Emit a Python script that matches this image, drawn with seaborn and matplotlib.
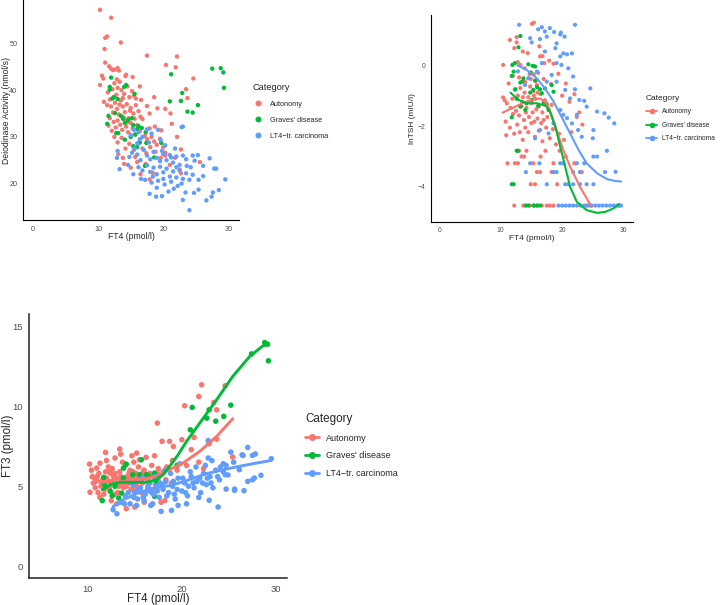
import matplotlib
matplotlib.use('Agg')
import matplotlib.pyplot as plt
import pandas as pd
import seaborn as sns
import numpy as np
from matplotlib.lines import Line2D

# categories + ggplot default hue colours
categories = ['Autonomy', "Graves' disease", 'LT4\u2212tr. carcinoma']
palette = ['#F8766D', '#00BA38', '#619CFF']

# ---- panel 1: deiodinase activity vs FT4 ----
deio_auto = [
    (10.3, 57.2), (12.0, 55.5), (11.1, 51.2), (11.4, 51.5), (11.0, 48.8), (13.5, 50.2), (11.1, 45.9),
    (11.7, 45.1), (12.0, 44.6), (12.3, 44.3), (12.6, 44.4), (13.0, 44.7), (13.2, 44.2), (14.3, 43.3),
    (15.3, 42.8), (10.6, 43.1), (10.8, 42.5), (10.3, 41.1), (17.5, 47.4), (20.4, 45.4), (22.1, 47.2),
    (21.9, 44.9), (24.6, 42.5), (16.4, 40.8), (15.8, 38.2), (18.6, 38.5), (23.5, 40.2), (23.7, 38.3),
    (19.1, 36.1), (20.3, 36.0), (17.9, 35.0), (21.1, 35.0), (21.3, 32.8), (18.7, 32.2), (19.7, 31.4),
    (22.1, 30.0), (22.7, 27.3), (20.3, 26.6), (20.3, 26.0), (25.6, 24.6), (22.7, 22.2), (18.4, 22.3),
    (17.9, 20.9), (15.0, 23.4), (15.7, 25.7), (16.0, 24.6), (14.0, 24.2),
    (11.5, 39.5), (11.8, 38.0), (12.2, 40.2), (12.5, 41.5), (12.8, 39.0), (13.0, 40.5), (13.3, 41.8),
    (13.6, 40.0), (14.0, 39.2), (14.5, 40.8), (14.8, 38.5), (15.2, 39.8), (12.0, 36.5), (12.3, 35.2),
    (12.6, 37.3), (12.9, 36.0), (13.2, 34.8), (13.5, 37.8), (13.8, 36.5), (14.1, 35.3), (14.4, 37.0),
    (14.7, 34.0), (15.0, 36.2), (15.4, 35.0), (15.8, 36.8), (16.2, 35.5), (16.5, 34.3), (11.8, 34.0),
    (12.4, 33.2), (12.7, 32.0), (13.0, 33.5), (13.4, 32.6), (13.7, 31.5), (14.0, 33.8), (14.3, 32.2),
    (14.6, 31.0), (15.0, 33.0), (15.3, 31.8), (15.7, 30.5), (16.0, 32.5), (16.4, 31.2), (16.8, 33.8),
    (17.2, 30.2), (17.5, 29.5), (17.9, 31.8), (18.2, 30.0), (18.6, 29.0), (19.0, 28.3), (19.5, 29.6),
    (20.0, 27.8), (12.5, 30.0), (13.0, 28.8), (13.6, 29.8), (14.2, 27.5), (14.8, 28.5), (15.5, 27.2),
    (16.2, 28.7), (16.8, 27.5), (17.4, 26.5), (18.0, 27.8), (18.8, 26.8), (19.6, 25.5), (21.0, 24.0),
    (21.8, 25.5), (22.5, 23.0), (11.4, 36.8), (10.9, 37.5), (12.9, 42.3), (14.2, 43.0), (13.8, 38.3),
    (15.5, 38.8), (16.6, 37.9), (17.5, 36.6), (12.1, 31.3), (11.6, 32.4), (13.1, 26.3), (13.8, 25.5),
    (17.3, 24.2), (16.5, 22.0), (13.9, 34.2), (14.9, 35.6), (13.3, 36.9), (14.5, 33.1), (15.6, 33.9),
]
deio_graves = [
    (12.0, 42.7), (11.8, 40.7), (11.8, 40.1), (12.4, 38.5), (13.0, 38.1), (14.3, 41.1), (14.0, 40.7),
    (15.6, 39.2), (11.6, 34.5), (12.6, 35.1), (13.5, 34.5), (11.4, 32.8), (13.1, 30.8), (12.8, 30.8),
    (13.8, 33.9), (14.1, 33.0), (15.4, 32.5), (16.0, 31.7), (16.2, 32.3), (16.7, 31.9), (15.7, 30.5),
    (16.4, 28.8), (17.4, 28.7), (17.3, 31.0), (19.7, 28.7), (18.6, 25.6), (17.2, 23.8), (15.4, 28.0),
    (14.1, 29.4), (15.2, 34.0), (21.2, 43.4), (22.9, 39.4), (21.0, 37.6), (22.7, 37.7), (23.7, 35.4),
    (24.5, 35.2), (25.3, 36.8), (27.5, 44.6), (28.8, 44.7), (29.2, 43.8), (29.3, 40.5), (14.6, 33.6),
    (15.0, 30.0), (16.0, 27.8), (12.2, 38.2),
]
deio_lt4 = [
    (13.0, 27.0), (12.9, 25.5), (13.3, 23.1), (14.8, 25.7), (15.2, 26.6), (15.6, 27.5), (16.0, 28.6),
    (16.4, 29.5), (15.5, 31.5), (16.2, 31.0), (15.0, 30.4), (16.8, 30.0), (17.5, 31.6), (18.2, 30.7),
    (19.2, 31.5), (16.0, 26.2), (16.5, 25.0), (17.0, 27.2), (17.5, 26.0), (18.0, 25.2), (18.5, 26.8),
    (19.0, 25.5), (19.5, 24.8), (20.0, 26.3), (20.5, 25.0), (21.0, 26.1), (21.5, 24.5), (22.0, 25.8),
    (22.5, 24.0), (23.0, 26.0), (23.5, 25.2), (16.2, 23.5), (16.8, 22.8), (17.5, 23.9), (18.0, 22.5),
    (18.5, 23.4), (19.0, 22.0), (19.5, 23.6), (20.0, 22.4), (20.5, 23.2), (21.0, 21.5), (21.5, 22.6),
    (22.0, 21.3), (22.5, 22.8), (23.0, 21.0), (23.5, 22.2), (24.0, 20.8), (24.5, 21.9), (17.2, 20.8),
    (18.2, 20.2), (19.2, 20.6), (20.2, 19.8), (21.2, 20.4), (22.2, 19.5), (20.8, 18.3), (19.0, 19.1),
    (17.9, 17.8), (18.9, 17.2), (19.8, 17.3), (23.0, 16.5), (24.0, 14.3), (26.6, 16.4), (27.4, 17.2),
    (27.6, 18.1), (28.5, 18.6), (29.5, 20.9), (25.3, 26.1), (27.1, 25.4), (27.8, 23.2), (28.1, 23.2),
    (26.1, 23.8), (25.4, 20.8), (25.4, 18.7), (24.7, 18.0), (23.4, 18.1), (26.1, 21.6), (23.0, 32.2),
    (22.8, 32.1), (24.2, 23.5), (24.8, 24.9), (21.8, 27.5), (20.3, 28.2), (19.6, 29.3), (17.8, 28.8),
    (14.6, 24.0), (15.4, 22.0), (16.6, 21.0), (21.6, 18.9), (22.8, 20.0), (20.0, 21.0), (18.4, 21.5),
    (23.6, 23.8), (24.5, 26.0), (22.0, 23.5), (21.2, 25.6), (19.8, 27.0),
]

# ---- panel 2: lnTSH vs FT4 ----
tsh_auto = [
    (15.1, 1.36), (15.4, 1.40), (11.5, 0.83), (12.6, 0.92), (12.6, 0.75), (12.2, 0.56), (13.6, 0.45),
    (14.4, 0.40), (16.3, 0.62), (16.8, 0.30), (10.4, 0.01), (12.8, 0.10), (13.2, 0.01), (13.9, -0.10),
    (14.7, -0.30), (15.7, -0.52), (16.4, 0.29), (17.1, 0.07), (17.9, 0.15), (18.6, 0.05), (19.4, -0.28),
    (18.2, -0.62), (17.0, -0.45), (12.0, -0.35), (11.3, -0.60), (10.4, -1.06), (10.65, -1.15),
    (11.0, -1.25), (11.6, -1.40), (10.8, -1.85), (11.5, -2.05), (10.9, -2.30), (12.2, -2.25),
    (12.7, -1.95), (13.1, -2.20), (13.6, -2.45), (14.0, -2.05), (14.5, -2.20), (15.0, -1.90),
    (15.6, -2.35), (16.2, -2.15), (16.8, -2.50), (17.4, -2.05), (18.0, -2.40), (18.5, -2.10),
    (19.0, -2.60), (19.5, -2.25), (20.3, -2.45), (21.5, -2.20), (22.4, -1.70), (22.8, -1.55),
    (23.3, -1.95), (22.0, -0.95), (21.2, -1.20), (20.6, -0.60), (20.0, -1.00),
    (12.3, -0.80), (12.8, -1.00), (13.2, -0.75), (13.5, -1.20), (13.9, -0.90), (14.2, -1.40),
    (14.5, -1.05), (14.8, -0.70), (15.0, -1.25), (15.3, -0.85), (15.6, -1.10), (15.9, -0.65),
    (16.2, -1.35), (16.5, -0.95), (16.8, -1.55), (17.2, -1.15), (17.6, -1.70), (12.5, -1.50),
    (13.0, -1.65), (13.4, -1.35), (13.8, -1.80), (14.1, -1.55), (14.6, -1.70), (15.2, -1.55),
    (15.5, -1.85), (15.8, -1.45), (16.0, -1.75), (16.6, -1.90), (17.0, -1.80), (17.8, -1.45),
    (18.3, -1.30), (11.9, -1.10), (12.0, -1.60), (14.0, -0.55), (14.9, -0.45), (15.4, -0.30),
    (16.1, -0.25), (13.0, -0.40), (14.7, -1.20), (15.4, -1.00), (16.0, -0.90), (13.6, -1.05),
    (11.1, -3.22), (12.3, -3.22), (12.8, -3.22), (13.4, -3.00), (13.8, -3.00), (14.2, -2.81),
    (15.3, -3.22), (17.3, -2.81), (18.6, -3.22), (16.5, -3.00), (19.6, -2.81), (20.6, -3.00),
    (13.0, -2.81), (15.9, -3.51), (16.4, -3.51), (18.3, -3.51), (23.2, -3.51), (22.0, -3.22),
    (14.9, -3.91), (15.6, -3.91), (19.2, -3.91),
    (12.2, -4.61), (13.7, -4.61), (14.8, -4.61), (15.4, -4.61), (16.0, -4.61), (16.7, -4.61),
    (17.5, -4.61), (18.0, -4.61), (18.6, -4.61), (24.0, -4.61), (24.6, -4.61),
]
tsh_graves = [
    (13.2, 0.96), (12.9, 0.59), (12.3, 0.07), (11.9, 0.01), (11.8, -0.35), (12.1, -0.21), (12.4, -0.79),
    (13.2, -0.57), (13.7, -0.43), (13.5, -0.54), (14.5, 0.03), (15.2, -0.02), (15.6, -0.04),
    (14.9, -0.24), (15.6, -0.50), (15.9, -0.72), (16.7, -0.92), (17.2, -0.76), (18.6, -0.87),
    (11.8, -1.71), (12.6, -2.81), (12.8, -2.81), (11.8, -3.91), (12.1, -3.91), (14.1, -4.61),
    (14.5, -4.61), (15.4, -4.61), (15.9, -4.61), (16.4, -4.61), (29.3, -4.61), (14.2, -1.25),
    (15.1, -1.14), (16.1, -1.34), (17.0, -1.23), (17.5, -1.27), (17.8, -1.47), (14.0, -1.47),
    (13.2, -1.36), (12.6, -1.10), (14.8, -0.90), (15.3, -0.81), (16.4, -0.79), (18.3, -0.65),
]
tsh_lt4 = [
    (13.0, 1.33), (14.8, 0.89), (15.05, 0.75), (16.1, 1.18), (16.4, 0.86), (16.7, 1.25), (17.2, 1.11),
    (18.0, 1.22), (18.7, 1.09), (19.7, 1.01), (19.8, 1.07), (20.4, 0.94), (22.1, 1.33), (17.5, 0.94),
    (19.1, 0.72), (18.9, 0.56), (20.2, 0.39), (20.8, 0.36), (21.6, 0.39), (19.7, 0.29), (19.1, 0.07),
    (19.9, 0.01), (21.0, -0.10), (21.8, -0.37), (17.2, 0.45), (16.7, 0.07), (15.9, -0.21),
    (14.5, -0.43), (13.96, -0.65), (18.3, -0.32), (17.5, -0.54), (19.1, -0.54), (20.5, -0.81),
    (21.3, -1.09), (22.1, -0.79), (22.8, -1.14), (23.6, -1.17), (24.0, -1.36), (24.6, -0.76),
    (25.7, -1.52), (26.9, -1.58), (27.6, -1.72), (28.5, -1.91), (25.1, -2.13), (25.0, -2.40),
    (19.7, -1.47), (20.2, -1.63), (20.8, -1.74), (21.6, -1.91), (18.6, -1.91), (17.8, -2.24),
    (22.4, -1.63), (22.6, -2.13), (23.2, -2.35), (27.3, -2.81), (28.7, -3.50), (16.4, -2.13),
    (15.6, -2.40), (12.8, -0.20), (16.3, -3.22),
    (14.8, -3.22), (14.1, -3.51), (18.6, -3.51), (19.1, -3.51), (21.8, -3.51), (22.9, -3.51),
    (27.0, -3.51), (19.7, -3.22), (20.2, -3.22), (22.4, -3.22), (23.6, -3.22), (25.1, -3.00),
    (25.7, -3.00), (17.5, -3.91), (20.5, -3.91), (21.0, -3.91), (21.8, -3.91), (22.9, -3.91),
    (24.0, -3.91), (25.1, -3.91),
    (19.4, -4.61), (20.0, -4.61), (20.6, -4.61), (21.2, -4.61), (21.8, -4.61), (22.4, -4.61),
    (23.0, -4.61), (23.6, -4.61), (24.2, -4.61), (24.8, -4.61), (25.4, -4.61), (26.0, -4.61),
    (26.6, -4.61), (27.2, -4.61), (27.8, -4.61), (28.4, -4.61), (29.0, -4.61), (29.6, -4.61),
]
# loess curves as drawn in panel 2
tsh_fit_auto = [(10.3, -1.56), (12.6, -1.34), (14.2, -1.19), (16.4, -1.09), (17.5, -1.25), (18.3, -1.63),
                (19.1, -2.13), (20.2, -2.79), (21.3, -3.33), (22.9, -3.99), (24.8, -4.65)]
tsh_fit_graves = [(11.6, -0.90), (12.9, -1.14), (14.2, -1.25), (15.9, -1.25), (17.4, -1.34), (18.0, -1.52),
                  (18.9, -2.02), (19.7, -2.68), (20.5, -3.33), (21.3, -3.99), (22.4, -4.49), (24.0, -4.76),
                  (25.7, -4.85), (27.0, -4.82), (28.4, -4.70), (29.3, -4.56)]
tsh_fit_lt4 = [(12.7, 0.0), (14.2, -0.15), (15.9, -0.43), (17.2, -0.76), (18.6, -1.19), (19.9, -1.69),
               (21.3, -2.24), (22.7, -2.79), (24.0, -3.22), (25.7, -3.55), (27.3, -3.74), (28.6, -3.80),
               (29.6, -3.82)]

# ---- panel 3: FT3 vs FT4 ----
ft3_auto = [
    (22.1, 11.33), (24.6, 11.27), (21.8, 10.60), (20.3, 10.02), (23.4, 10.23), (23.7, 9.77), (21.3, 8.05),
    (20.0, 7.90), (17.4, 8.94), (18.7, 7.80), (19.1, 7.48), (21.0, 7.28), (23.7, 7.94), (25.4, 6.82),
    (22.9, 7.65), (21.8, 6.50), (22.3, 6.10), (20.5, 6.30), (19.5, 6.00), (18.4, 6.20), (17.5, 6.10),
    (10.2, 6.38), (10.25, 4.62), (10.95, 6.13), (11.9, 7.11), (11.3, 6.44), (12.4, 5.82), (13.4, 7.32),
    (12.9, 6.76), (14.7, 6.90), (15.2, 7.07), (15.5, 6.65), (14.4, 5.82), (10.6, 5.20), (10.8, 4.90),
    (11.0, 5.60), (11.4, 5.00), (11.7, 4.50), (11.9, 5.90), (12.1, 5.30), (12.3, 4.90), (12.6, 6.10),
    (12.8, 5.50), (13.0, 5.10), (13.2, 4.60), (13.4, 5.90), (13.6, 5.40), (13.8, 4.90), (14.0, 6.30),
    (14.2, 5.60), (14.4, 5.20), (14.6, 4.80), (14.8, 5.90), (15.0, 5.40), (15.2, 5.00), (15.4, 6.20),
    (15.6, 5.70), (15.8, 5.20), (16.0, 6.00), (16.2, 5.50), (16.4, 4.90), (16.6, 5.80), (16.8, 6.30),
    (17.0, 5.60), (17.2, 5.10), (17.5, 5.50), (17.8, 4.00), (18.0, 5.90), (13.1, 3.90), (14.1, 3.60),
    (12.5, 4.10), (11.3, 4.30), (15.0, 3.70), (12.0, 6.60), (13.5, 7.00), (16.2, 6.80), (17.1, 6.90),
    (14.9, 6.50), (12.2, 6.20), (10.5, 5.60), (11.6, 5.40), (13.7, 6.50), (15.7, 4.60), (16.9, 4.80),
    (18.3, 5.40), (19.0, 6.60), (18.9, 5.20), (12.7, 5.70), (13.9, 5.50), (14.5, 6.00), (15.9, 5.90),
    (10.4, 6.00), (10.9, 5.30), (11.2, 5.80), (11.5, 5.20), (11.8, 4.80), (12.0, 5.50), (12.3, 5.90),
    (12.5, 5.30), (12.9, 5.80), (13.1, 5.50), (13.3, 5.00), (13.5, 5.60), (13.7, 5.20), (14.1, 5.00),
    (14.3, 5.40), (14.6, 5.60), (15.1, 5.80), (15.3, 5.50), (15.7, 5.40), (16.1, 5.70), (16.5, 5.30),
    (17.4, 5.80), (11.1, 4.60), (12.9, 4.50), (14.9, 4.80), (16.0, 4.00), (17.9, 7.80), (18.2, 4.10),
]
ft3_graves = [
    (28.8, 13.97), (29.1, 13.87), (27.4, 13.26), (29.2, 12.83), (25.2, 10.06), (24.45, 9.36), (23.6, 9.06),
    (22.65, 9.25), (22.9, 9.77), (21.1, 9.92), (20.9, 8.52), (11.55, 4.10), (11.7, 5.55), (11.8, 5.09),
    (12.4, 4.68), (12.9, 4.99), (13.6, 4.57), (13.8, 5.51), (14.1, 6.38), (14.8, 5.72), (15.5, 5.72),
    (15.7, 6.65), (16.25, 5.72), (16.5, 5.61), (17.1, 5.82), (17.3, 5.30), (17.1, 4.37), (13.3, 4.26),
    (13.8, 6.13), (12.6, 4.40), (19.5, 6.30),
]
ft3_lt4 = [
    (13.1, 3.28), (12.7, 3.53), (17.8, 3.43), (18.9, 3.49), (23.85, 3.70), (22.9, 4.12), (25.6, 4.74),
    (26.6, 4.72), (24.7, 4.82), (27.0, 7.42), (27.8, 7.01), (26.5, 6.92), (25.2, 7.13), (29.5, 6.72),
    (28.4, 5.68), (27.7, 5.51), (27.0, 5.30), (26.1, 6.03), (24.7, 6.30), (22.8, 7.85),
    (13.5, 4.0), (14.0, 4.4), (14.5, 3.9), (15.0, 4.6), (15.3, 4.2), (15.6, 4.9), (16.0, 4.1), (16.3, 4.7),
    (16.6, 5.2), (17.0, 4.5), (17.3, 5.0), (17.6, 4.3), (18.0, 4.8), (18.3, 5.3), (18.6, 4.6), (19.0, 5.0),
    (19.3, 4.2), (19.6, 5.5), (20.0, 4.7), (20.3, 5.2), (20.6, 4.4), (21.0, 5.6), (21.3, 4.9), (21.6, 5.3),
    (22.0, 4.6), (22.3, 5.8), (22.6, 5.1), (23.0, 5.6), (23.3, 4.9), (23.6, 6.0), (24.0, 5.4), (24.4, 5.9),
    (18.2, 6.0), (19.8, 6.4), (21.5, 6.2), (22.5, 6.3), (20.5, 3.9), (19.6, 3.8), (16.9, 3.9), (15.8, 5.5),
    (14.8, 5.1), (21.8, 4.3), (23.2, 6.6), (24.9, 5.7), (24.1, 6.2), (18.8, 5.8), (17.2, 5.6), (16.1, 4.5),
    (20.9, 5.9), (17.7, 5.2), (19.2, 4.5), (20.7, 5.0), (22.2, 5.2),
    (14.3, 4.6), (14.9, 4.3), (15.4, 4.8), (15.9, 4.3), (16.4, 5.0), (16.8, 4.6), (17.4, 4.7), (17.9, 5.1),
    (18.4, 4.4), (19.1, 5.3), (19.5, 4.8), (20.1, 5.5), (20.4, 4.6), (21.2, 5.2), (21.9, 5.5), (22.7, 5.5),
    (23.1, 5.2), (23.8, 5.6), (24.4, 6.4), (25.5, 6.5), (26.4, 6.96), (27.5, 6.92), (27.5, 5.4),
    (22.8, 6.76), (13.9, 3.9), (15.2, 3.8), (16.7, 3.8), (24.6, 5.72), (25.6, 4.82),
]
ft3_fit_auto = [(10.35, 5.55), (11.3, 5.30), (12.4, 5.20), (13.8, 5.30), (15.5, 5.41), (17.3, 5.61),
                (18.7, 6.03), (20.1, 6.44), (21.9, 7.17), (23.7, 8.11), (25.4, 9.21)]
ft3_fit_graves = [(11.55, 4.78), (12.4, 5.09), (13.4, 5.24), (14.8, 5.24), (16.25, 5.24), (17.3, 5.41),
                  (18.0, 5.72), (18.7, 6.24), (19.6, 6.96), (20.5, 7.80), (21.9, 8.94), (23.7, 10.40),
                  (25.4, 11.85), (27.2, 13.10), (28.6, 13.76), (29.15, 13.83)]
ft3_fit_lt4 = [(12.7, 3.74), (13.8, 4.16), (15.5, 4.62), (17.3, 4.89), (19.1, 5.09), (20.8, 5.41),
               (22.6, 5.78), (24.4, 6.03), (26.1, 6.24), (27.9, 6.44), (29.5, 6.61)]


def frame(groups, ycol):
    rows = []
    for cat, pts in zip(categories, groups):
        for x, y in pts:
            rows.append({'FT4': x, ycol: y, 'Category': cat})
    return pd.DataFrame(rows)


def style(ax, fs, spine_lw=0.8, spine_col='black'):
    sns.despine(ax=ax)
    for s in ['left', 'bottom']:
        ax.spines[s].set_color(spine_col)
        ax.spines[s].set_linewidth(spine_lw)
    ax.tick_params(colors='#333333', labelcolor='#4D4D4D', labelsize=fs, length=2.5, width=0.6, pad=1.5)


def set_labels(ax, xlab, ylab, fs, xpos, ypos):
    # place axis titles by their centres (axes fraction)
    ax.set_xlabel(xlab, fontsize=fs, va='center')
    ax.set_ylabel(ylab, fontsize=fs, va='center')
    ax.xaxis.set_label_coords(0.5, xpos)
    ax.yaxis.set_label_coords(ypos, 0.5)


def add_legend(fig, ax, x, y, fs_title, fs_text, spacing, hlen, hpad, msize, lw=None):
    handles = []
    for c in palette:
        if lw is None:
            handles.append(Line2D([], [], marker='o', ls='none', color=c, markersize=msize))
        else:
            handles.append(Line2D([], [], marker='o', ls='-', lw=lw, color=c, markersize=msize))
    leg = ax.legend(handles, categories, title='Category', loc='upper left',
                    bbox_to_anchor=(x / 720, 1 - y / 605), bbox_transform=fig.transFigure,
                    frameon=False, borderpad=0, borderaxespad=0, fontsize=fs_text,
                    title_fontsize=fs_title, labelspacing=spacing, handlelength=hlen,
                    handletextpad=hpad, alignment='left')
    return leg


sns.set_style('white')
plt.rcParams['font.family'] = ['Liberation Sans', 'DejaVu Sans']

fig = plt.figure(figsize=(7.2, 6.05), dpi=100)

# panel 1
ax1 = fig.add_axes([23 / 720, 1 - 220 / 605, 216 / 720, 220 / 605])
df1 = frame([deio_auto, deio_graves, deio_lt4], 'Deiodinase')
sns.scatterplot(data=df1, x='FT4', y='Deiodinase', hue='Category', palette=palette,
                hue_order=categories, s=10, linewidth=0, legend=False, ax=ax1)
ax1.set_xlim(-1.5, 31.6)
ax1.set_ylim(12.2, 59.3)
ax1.set_xticks([0, 10, 20, 30])
ax1.set_yticks([20, 30, 40, 50])
style(ax1, 5.2)
set_labels(ax1, 'FT4 (pmol/l)', 'Deiodinase Activity (nmol/s)', 6.2, -0.077, -0.078)
add_legend(fig, ax1, 253, 83, 6.6, 5.3, 1.2, 1.4, 0.9, 3.3)

# panel 2
ax2 = fig.add_axes([430.7 / 720, 1 - 221.7 / 605, 202 / 720, 206.7 / 605])
df2 = frame([tsh_auto, tsh_graves, tsh_lt4], 'lnTSH')
sns.scatterplot(data=df2, x='FT4', y='lnTSH', hue='Category', palette=palette,
                hue_order=categories, s=9, linewidth=0, legend=False, ax=ax2)
fit2 = frame([tsh_fit_auto, tsh_fit_graves, tsh_fit_lt4], 'lnTSH')
sns.lineplot(data=fit2, x='FT4', y='lnTSH', hue='Category', palette=palette, hue_order=categories,
             lw=1.5, legend=False, ax=ax2, sort=True, estimator=None)
ax2.set_xlim(-1.4, 31.5)
ax2.set_ylim(-5.14, 1.65)
ax2.set_xticks([0, 10, 20, 30])
ax2.set_yticks([-4, -2, 0])
style(ax2, 4.9)
set_labels(ax2, 'FT4 (pmol/l)', 'lnTSH (mIU/l)', 6.0, -0.079, -0.088)
add_legend(fig, ax2, 646, 95, 6.0, 4.8, 0.97, 1.7, 0.7, 3.0, lw=1.3)

# panel 3
ax3 = fig.add_axes([29.3 / 720, 1 - 578.3 / 605, 258 / 720, 264.3 / 605])
df3 = frame([ft3_auto, ft3_graves, ft3_lt4], 'FT3')
sns.scatterplot(data=df3, x='FT4', y='FT3', hue='Category', palette=palette,
                hue_order=categories, s=16, linewidth=0, legend=False, ax=ax3)
fit3 = frame([ft3_fit_auto, ft3_fit_graves, ft3_fit_lt4], 'FT3')
sns.lineplot(data=fit3, x='FT4', y='FT3', hue='Category', palette=palette, hue_order=categories,
             lw=2.1, legend=False, ax=ax3, sort=True, estimator=None)
ax3.set_xlim(3.8, 31.2)
ax3.set_ylim(-0.75, 15.75)
ax3.set_xticks([10, 20, 30])
ax3.set_yticks([0, 5, 10, 15])
style(ax3, 6.8, spine_lw=1.1, spine_col='#222222')
ax3.tick_params(length=3)
set_labels(ax3, 'FT4 (pmol/l)', 'FT3 (pmol/l)', 8.3, -0.079, -0.083)
add_legend(fig, ax3, 305, 413, 8.4, 6.5, 0.95, 1.5, 0.8, 4.0, lw=2.0)

fig.savefig('out.png', dpi=100)
